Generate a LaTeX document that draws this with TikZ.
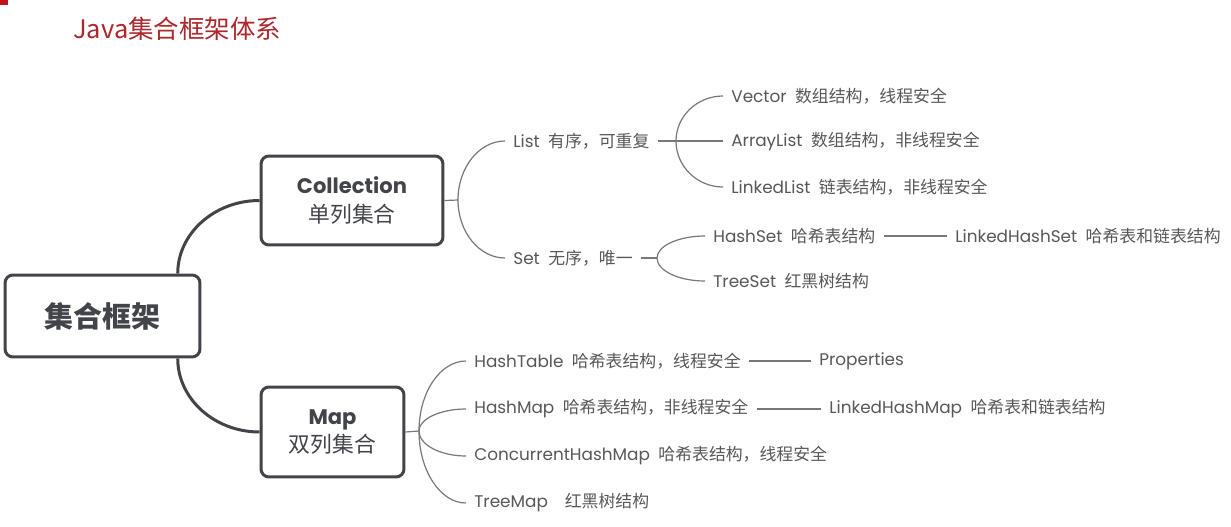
\documentclass[tikz,border=0pt]{standalone}
\usepackage{fontspec}
\setmainfont{Poppins}
\newfontfamily\cjk{Noto Sans CJK SC}
\usepackage{xcolor}
\usepackage{tikz}
\usetikzlibrary{positioning, calc}
\definecolor{boxgray}{RGB}{66,68,74}
\definecolor{leafgray}{RGB}{88,88,88}
\definecolor{twiggray}{RGB}{120,120,120}
\definecolor{titlered}{RGB}{172,40,44}
\definecolor{cornerred}{RGB}{192,20,24}
\newcommand{\zh}[1]{{\cjk #1}}

\begin{document}
\begin{tikzpicture}[x=0.02cm, y=-0.02cm,
    rootbox/.style={draw=boxgray, line width=0.06cm, rounded corners=0.16cm, minimum width=3.9cm, minimum height=1.64cm, text=boxgray, font=\cjk\bfseries\fontsize{16.5}{20}\selectfont},
    topicbox/.style={draw=boxgray, line width=0.06cm, rounded corners=0.16cm, align=center, text=boxgray, font=\fontsize{12}{16}\selectfont},
    leaf/.style={anchor=west, inner xsep=0.16cm, inner ysep=1pt, text=leafgray, font=\fontsize{9.6}{11}\selectfont},
    branch/.style={draw=boxgray, line width=0.06cm},
    twig/.style={draw=twiggray, line width=0.024cm},
    curvy/.style={to path={.. controls ($(\tikztostart)!0.55!(\tikztostart |- \tikztotarget)$) and ($(\tikztotarget)!0.55!(\tikztostart |- \tikztotarget)$) .. (\tikztotarget)}}]
    \useasboundingbox[fill=white] (0,0) rectangle (1231,527);
    \fill[cornerred] (0,0) rectangle (8,5);

    % Title
    \node[anchor=west, inner sep=0, text=titlered, font=\cjk\fontsize{14.5}{18}\selectfont] (title) at (73,29) {Java集合框架体系};

    % Root and the two main topics
    \node[rootbox] (root) at (102.5,316) {集合框架};
    \node[topicbox, minimum width=3.64cm, minimum height=1.78cm] (coll) at (352,200.5) {\bfseries Collection\\ \zh{\fontsize{12.4}{16}\selectfont 单列集合}};
    \node[topicbox, minimum width=2.86cm, minimum height=1.8cm] (map) at (332.5,432) {\bfseries Map\\ \zh{\fontsize{12.4}{16}\selectfont 双列集合}};

    \coordinate (rootup) at ($(root.north east)!0.12!(root.north west)$);
    \coordinate (rootdown) at ($(root.south east)!0.12!(root.south west)$);
    \draw[branch] (rootup) to[curvy] (coll.west);
    \draw[branch] (rootdown) to[curvy] (map.west);

    % Collection side
    \coordinate (collfork) at (458,200);
    \node[leaf] (list) at (505,141) {List\hspace{0.5em}\zh{有序，可重复}};
    \node[leaf] (set) at (505,258) {Set\hspace{0.5em}\zh{无序，唯一}};
    \draw[twig] (coll.east) -- (collfork);
    \draw[twig] (collfork) to[curvy] (list.west);
    \draw[twig] (collfork) to[curvy] (set.west);

    % List
    \coordinate (listfork) at (676,141);
    \node[leaf] (vector) at (723,96) {Vector\hspace{0.5em}\zh{数组结构，线程安全}};
    \node[leaf] (arraylist) at (723,141) {ArrayList\hspace{0.5em}\zh{数组结构，非线程安全}};
    \node[leaf] (linkedlist) at (723,187) {LinkedList\hspace{0.5em}\zh{链表结构，非线程安全}};
    \draw[twig] (list.east) -- (listfork);
    \draw[twig] (listfork) to[curvy] (vector.west);
    \draw[twig] (listfork) -- (arraylist.west);
    \draw[twig] (listfork) to[curvy] (linkedlist.west);

    % Set
    \coordinate (setfork) at (657,258);
    \node[leaf] (hashset) at (705,236) {HashSet\hspace{0.5em}\zh{哈希表结构}};
    \node[leaf] (treeset) at (705,281) {TreeSet\hspace{0.5em}\zh{红黑树结构}};
    \node[leaf] (linkedhashset) at (947,236) {LinkedHashSet\hspace{0.5em}\zh{哈希表和链表结构}};
    \draw[twig] (set.east) -- (setfork);
    \draw[twig] (setfork) to[curvy] (hashset.west);
    \draw[twig] (setfork) to[curvy] (treeset.west);
    \draw[twig] (hashset.east) -- (linkedhashset.west);

    % Map side
    \coordinate (mapfork) at (419,431);
    \node[leaf] (hashtable) at (466,361) {HashTable\hspace{0.5em}\zh{哈希表结构，线程安全}};
    \node[leaf] (properties) at (811,361) {Properties};
    \node[leaf] (hashmap) at (466,409) {HashMap\hspace{0.5em}\zh{哈希表结构，非线程安全}};
    \node[leaf] (linkedhashmap) at (821,409) {LinkedHashMap\hspace{0.5em}\zh{哈希表和链表结构}};
    \node[leaf] (concurrent) at (466,456) {ConcurrentHashMap\hspace{0.5em}\zh{哈希表结构，线程安全}};
    \node[leaf] (treemap) at (466,503) {TreeMap\hspace{1em}\zh{红黑树结构}};
    \draw[twig] (map.east) -- (mapfork);
    \draw[twig] (mapfork) to[curvy] (hashtable.west);
    \draw[twig] (mapfork) to[curvy] (hashmap.west);
    \draw[twig] (mapfork) to[curvy] (concurrent.west);
    \draw[twig] (mapfork) to[curvy] (treemap.west);
    \draw[twig] (hashtable.east) -- (properties.west);
    \draw[twig] (hashmap.east) -- (linkedhashmap.west);
\end{tikzpicture}
\end{document}
